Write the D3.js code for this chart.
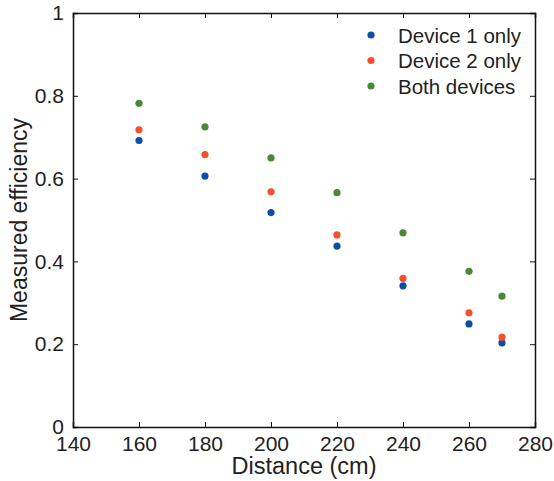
<!DOCTYPE html>
<html>
<head>
<meta charset="utf-8">
<script src="https://cdn.jsdelivr.net/npm/d3@7"></script>
<style>
  body { margin: 0; background: #fff; }
  text { font-family: "Liberation Sans", Arial, sans-serif; fill: #222; }
</style>
</head>
<body>
<div id="chart"></div>
<script>
const width = 554, height = 481;
const margin = { top: 13, right: 19, bottom: 54, left: 73 };

// data
const distances = [160, 180, 200, 220, 240, 260, 270];
const device1 = [0.692, 0.606, 0.518, 0.437, 0.341, 0.249, 0.203];
const device2 = [0.718, 0.658, 0.568, 0.464, 0.359, 0.276, 0.217];
const both = [0.782, 0.725, 0.650, 0.566, 0.469, 0.376, 0.316];
const seriesNames = ["Device 1 only", "Device 2 only", "Both devices"];
const seriesColors = ["#0a4ea6", "#f5502a", "#4b873a"];
const xTicks = [140, 160, 180, 200, 220, 240, 260, 280];
const yTicks = [0, 0.2, 0.4, 0.6, 0.8, 1];

const series = [device1, device2, both];

const x = d3.scaleLinear().domain([140, 280]).range([margin.left, width - margin.right]);
const y = d3.scaleLinear().domain([0, 1]).range([height - margin.bottom, margin.top]);

const svg = d3.select("#chart").append("svg")
    .attr("width", width)
    .attr("height", height);

const fmt = d => d === 0 || d === 1 ? String(d) : d3.format(".1f")(d);

// axes with inward ticks
svg.append("g")
    .attr("transform", `translate(0,${y(0)})`)
    .call(d3.axisBottom(x).tickValues(xTicks).tickSize(-5).tickPadding(9))
    .call(g => g.selectAll("text").style("font-size", "21px"));

svg.append("g")
    .attr("transform", `translate(0,${y(1)})`)
    .call(d3.axisTop(x).tickValues(xTicks).tickSize(-5).tickFormat(""));

svg.append("g")
    .attr("transform", `translate(${x(140)},0)`)
    .call(d3.axisLeft(y).tickValues(yTicks).tickSize(-5).tickPadding(9).tickFormat(fmt))
    .call(g => g.selectAll("text").style("font-size", "21px"));

svg.append("g")
    .attr("transform", `translate(${x(280)},0)`)
    .call(d3.axisRight(y).tickValues(yTicks).tickSize(-5).tickFormat(""));

svg.selectAll(".domain").attr("stroke", "#111").attr("stroke-width", 1.5);
svg.selectAll(".tick line").attr("stroke", "#111").attr("stroke-width", 1);

// dots
series.forEach((vals, i) => {
    svg.append("g")
        .selectAll("circle")
        .data(vals)
        .join("circle")
        .attr("cx", (d, j) => x(distances[j]))
        .attr("cy", d => y(d))
        .attr("r", 3.6)
        .attr("fill", seriesColors[i]);
});

// axis titles
svg.append("text")
    .attr("x", (x(140) + x(280)) / 2)
    .attr("y", 474)
    .attr("text-anchor", "middle")
    .style("font-size", "23.5px")
    .text("Distance (cm)");

svg.append("text")
    .attr("transform", `translate(27,${(y(0) + y(1)) / 2}) rotate(-90)`)
    .attr("text-anchor", "middle")
    .style("font-size", "23px")
    .text("Measured efficiency");

// legend
const legend = svg.append("g");
seriesNames.forEach((name, i) => {
    const ly = 35 + i * 25.5;
    legend.append("circle")
        .attr("cx", 371)
        .attr("cy", ly)
        .attr("r", 3.6)
        .attr("fill", seriesColors[i]);
    legend.append("text")
        .attr("x", 398)
        .attr("y", ly + 7.5)
        .style("font-size", "20.5px")
        .text(name);
});
</script>
</body>
</html>
